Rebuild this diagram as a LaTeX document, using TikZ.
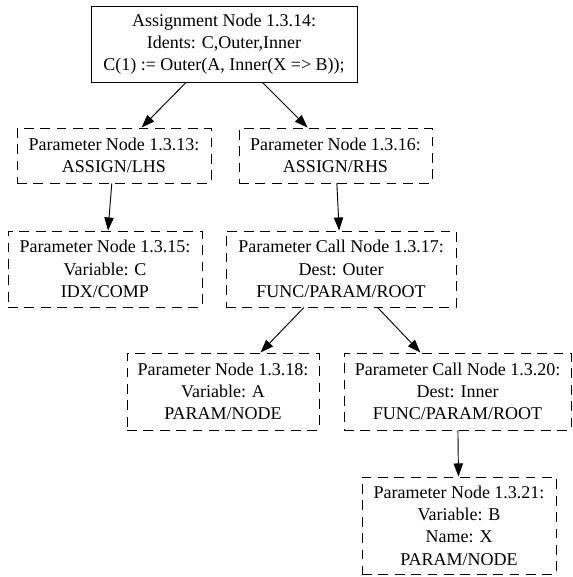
\documentclass[tikz,border=0pt]{standalone}
\usepackage{fontspec}
\setmainfont{Liberation Serif}
\usetikzlibrary{arrows.meta}
\begin{document}
\begin{tikzpicture}[x=0.75pt,y=-0.75pt,
  nd/.style 2 args={draw, line width=0.7pt, rectangle, inner sep=0pt, align=center,
    font=\fontsize{13.5}{16.7}\selectfont,
    minimum width=#1*0.75pt, minimum height=#2*0.75pt},
  dbox/.style={dash pattern=on 7.3pt off 5pt},
  conn/.style={-{Triangle[length=9.8pt,width=7pt]}, line width=0.7pt}]
\useasboundingbox (0,0) rectangle (573,577);
\node[nd={266}{76}] (n14) at (224,44) {Assignment Node 1.3.14:\\Idents: C,Outer,Inner\\C(1) := Outer(A, Inner(X => B));};
\node[nd={194}{55},dbox] (n13) at (114,155.5) {Parameter Node 1.3.13:\\ASSIGN/LHS};
\node[nd={193}{55},dbox] (n16) at (335.5,155.5) {Parameter Node 1.3.16:\\ASSIGN/RHS};
\node[nd={194}{76},dbox] (n15) at (105,269) {Parameter Node 1.3.15:\\Variable: C\\IDX/COMP};
\node[nd={230}{76},dbox] (n17) at (341,269) {Parameter Call Node 1.3.17:\\Dest: Outer\\FUNC/PARAM/ROOT};
\node[nd={192}{77},dbox] (n18) at (223,391.5) {Parameter Node 1.3.18:\\Variable: A\\PARAM/NODE};
\node[nd={227}{77},dbox] (n20) at (457.5,391.5) {Parameter Call Node 1.3.20:\\Dest: Inner\\FUNC/PARAM/ROOT};
\node[nd={194}{97},dbox] (n21) at (459,525.5) {Parameter Node 1.3.21:\\Variable: B\\Name: X\\PARAM/NODE};
\draw[conn] (n14) -- (n13);
\draw[conn] (n14) -- (n16);
\draw[conn] (n13) -- (n15);
\draw[conn] (n16) -- (n17);
\draw[conn] (n17) -- (n18);
\draw[conn] (n17) -- (n20);
\draw[conn] (n20) -- (n21);
\end{tikzpicture}
\end{document}
